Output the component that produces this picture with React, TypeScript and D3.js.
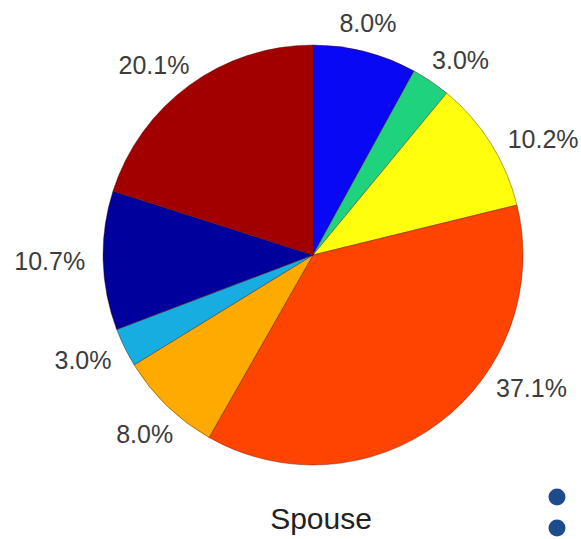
import React from "react";
import * as d3 from "d3";

const categories = ["A", "B", "C", "D", "E", "F", "G", "H"];
const values = [8.0, 3.0, 10.2, 37.1, 8.0, 3.0, 10.7, 20.1];
const labels = ["8.0%", "3.0%", "10.2%", "37.1%", "8.0%", "3.0%", "10.7%", "20.1%"];
const colors = ["#0808f4", "#1fd27e", "#ffff0c", "#ff4300", "#ffaa00", "#17ade0", "#00009c", "#a20000"];
const labelNudgeDeg = [-2, 1, 3, -19, -3, 0, 0, -1];
const title = "Spouse";
const legendDots = [0, 1];

const W = 581;
const H = 539;
const cx = 313;
const cy = 255;
const R = 210;
const LR = 228;
const FS = 25;

export default function App() {
  const pie = d3
    .pie<number>()
    .sort(null)
    .value((d) => d)
    .startAngle(0)
    .endAngle(2 * Math.PI);
  const arcs = pie(values);
  const arc = d3.arc<d3.PieArcDatum<number>>().innerRadius(0).outerRadius(R);

  return (
    <svg
      width={W}
      height={H}
      style={{ position: "fixed", left: 0, top: 0, background: "#fff" }}
      fontFamily="'Liberation Sans', Arial, Helvetica, sans-serif"
    >
      <g transform={`translate(${cx},${cy})`}>
        {arcs.map((a, i) => (
          <path
            key={categories[i]}
            d={arc(a) || ""}
            fill={colors[i]}
            stroke="#4a1000"
            strokeOpacity={0.45}
            strokeWidth={0.9}
          />
        ))}
        {arcs.map((a, i) => {
          const th = (a.startAngle + a.endAngle) / 2 + (labelNudgeDeg[i] * Math.PI) / 180;
          const s = Math.sin(th);
          const c = Math.cos(th);
          const hw = labels[i].length * FS * 0.283;
          const hh = 10;
          const x = s * LR + s * hw;
          const y = -c * LR - c * hh;
          return (
            <text
              key={"l" + i}
              x={x}
              y={y}
              dy="0.36em"
              textAnchor="middle"
              fontSize={FS}
              fill="#3c3c3c"
            >
              {labels[i]}
            </text>
          );
        })}
      </g>
      <text x={321} y={529} textAnchor="middle" fontSize={30} fill="#222">
        {title}
      </text>
      {legendDots.map((d) => (
        <circle key={d} cx={557} cy={497 + d * 31} r={8.5} fill="#1c4c8c" />
      ))}
    </svg>
  );
}
